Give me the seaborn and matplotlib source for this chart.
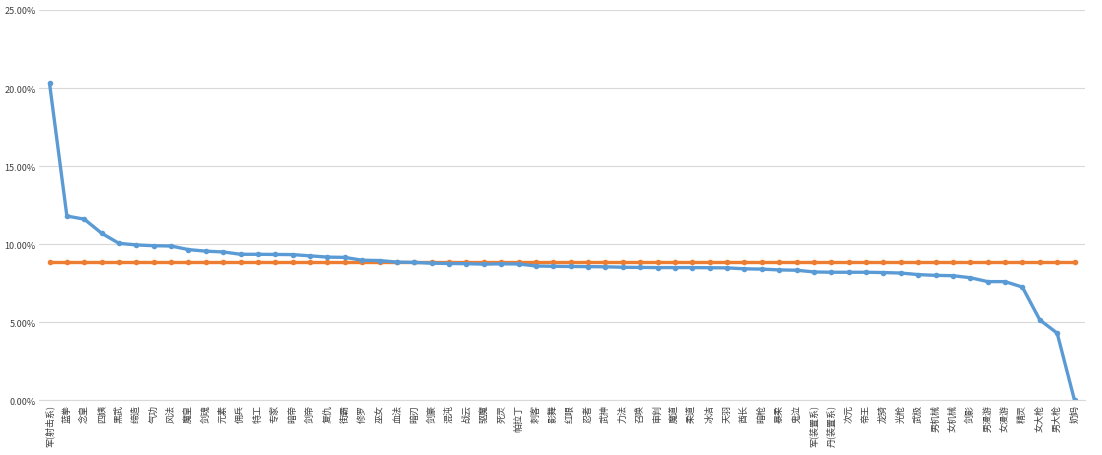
import numpy as np
import pandas as pd
import matplotlib
matplotlib.use('Agg')
import matplotlib.pyplot as plt
import matplotlib.ticker as mtick
import seaborn as sns

# 职业名
classes = ['军(射击系)', '蓝拳', '念皇', '四姨', '黑武', '缔造', '气功', '风法', '魔皇', '剑魂',
           '元素', '佣兵', '特工', '专家', '暗帝', '剑帝', '复仇', '街霸', '修罗', '巫女',
           '血法', '暗刃', '剑豪', '混沌', '战云', '驱魔', '死灵', '帕拉丁', '刺客', '影舞',
           '红眼', '忍者', '武神', '力法', '召唤', '审判', '魔道', '柔道', '冰洁', '天羽',
           '酋长', '暗枪', '暴柔', '鬼泣', '军(装置系)', '丹(装置系)', '次元', '帝王', '龙骑', '光枪',
           '武极', '男机械', '女机械', '剑影', '男漫游', '女漫游', '精灵', '女大枪', '男大枪', '奶妈']

# 占比 (%)
share = [20.3, 11.8, 11.6, 10.7, 10.05, 9.95, 9.9, 9.88, 9.65, 9.55,
         9.5, 9.35, 9.35, 9.34, 9.33, 9.25, 9.17, 9.15, 8.97, 8.95,
         8.85, 8.83, 8.78, 8.76, 8.75, 8.72, 8.74, 8.73, 8.6, 8.58,
         8.57, 8.56, 8.55, 8.52, 8.51, 8.5, 8.5, 8.5, 8.49, 8.48,
         8.42, 8.4, 8.35, 8.33, 8.22, 8.2, 8.2, 8.2, 8.18, 8.15,
         8.05, 8.0, 7.98, 7.85, 7.6, 7.6, 7.25, 5.15, 4.3, 0.0]

# 平均线
avg = [8.85] * len(classes)

df = pd.DataFrame({'职业': classes, '占比': share, '平均': avg})

sns.set_style('white')
plt.rcParams['font.family'] = ['Noto Sans CJK SC', 'DejaVu Sans']

fig, ax = plt.subplots(figsize=(11.02, 4.56), dpi=100)
fig.subplots_adjust(left=0.035, right=0.985, top=0.976, bottom=0.12)

sns.lineplot(data=df, x='职业', y='平均', color='#ED7D31', lw=2.4, marker='o',
             markersize=4, markeredgewidth=0, sort=False, ax=ax)
sns.lineplot(data=df, x='职业', y='占比', color='#5B9BD5', lw=2.4, marker='o',
             markersize=4, markeredgewidth=0, sort=False, ax=ax)

ax.set_ylim(0, 25)
ax.set_yticks(np.arange(0, 26, 5))
ax.yaxis.set_major_formatter(mtick.FuncFormatter(lambda v, p: f'{v:.2f}%'))
ax.set_xlim(-0.63, len(classes) - 0.37)
ax.grid(axis='y', color='#d9d9d9', lw=0.8)
ax.set_axisbelow(True)
ax.set_xlabel('')
ax.set_ylabel('')
for s in ['top', 'right', 'left']:
    ax.spines[s].set_visible(False)
ax.spines['bottom'].set_color('#d9d9d9')
ax.tick_params(axis='y', length=0, labelsize=6.5, colors='#404040', pad=2)
ax.tick_params(axis='x', length=0, labelsize=6.5, colors='#404040', pad=3)
plt.setp(ax.get_xticklabels(), rotation=90)

plt.savefig('out.png', dpi=100)
